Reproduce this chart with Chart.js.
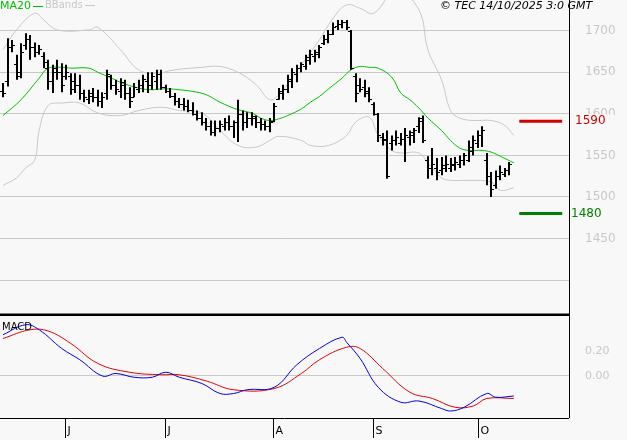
<!DOCTYPE html>
<html>
<head>
<meta charset="utf-8">
<script src="https://cdn.jsdelivr.net/npm/chart.js@4.4.1/dist/chart.umd.min.js"></script>
<style>
  body { margin: 0; background: #f8f8f8; }
  #wrap { position: relative; width: 627px; height: 440px; background: #f8f8f8; overflow: hidden; font-family: 'DejaVu Sans', sans-serif; }
  #main { position: absolute; left: 0; top: 0; }
  #macd { position: absolute; left: 0; top: 315px; }
  .lbl { position: absolute; font-size: 11px; white-space: nowrap; }
</style>
</head>
<body>
<div id="wrap">
  <canvas id="main" width="627" height="316"></canvas>
  <canvas id="macd" width="627" height="125"></canvas>
  <div class="lbl" style="left:0;top:-1px;color:#00c000">MA20<span style="display:inline-block;width:10px;margin-left:2px;border-top:1px solid #00c000;vertical-align:middle"></span></div>
  <div class="lbl" style="left:45px;top:-1px;color:#c8c8c8;font-size:10px">BBands<span style="display:inline-block;width:10px;margin-left:2px;border-top:1px solid #c8c8c8;vertical-align:middle"></span></div>
  <div class="lbl" style="left:440px;top:-1px;color:#000;font-style:italic">© TEC 14/10/2025 3:0 GMT</div>
  <div class="lbl" style="left:2px;top:321px;color:#000;font-size:10px">MACD</div>
</div>
<script>
// OHLC bars, one per trading day
const highs = [1637,1691,1689,1671,1685,1697,1695,1686,1683,1674,1665,1659,1665,1661,1659,1649,1649,1647,1629,1629,
  1631,1629,1626,1653,1647,1641,1643,1641,1632,1637,1641,1647,1650,1650,1653,1653,1635,1631,1625,1619,
  1619,1617,1614,1604,1602,1595,1592,1592,1592,1595,1598,1592,1617,1604,1602,1602,1598,1595,1592,1595,
  1613,1631,1635,1647,1655,1659,1662,1671,1677,1677,1683,1695,1701,1710,1713,1713,1713,1701,1649,1643,
  1641,1632,1614,1601,1577,1580,1574,1580,1577,1583,1580,1583,1596,1598,1549,1559,1547,1548,1550,1547,
  1548,1550,1553,1568,1574,1580,1585,1553,1530,1532,1538,1535,1542];
const lows = [1620,1633,1674,1641,1643,1677,1665,1668,1671,1655,1629,1625,1641,1626,1641,1623,1625,1617,1614,1612,
  1614,1609,1607,1617,1629,1623,1619,1617,1607,1620,1625,1626,1625,1629,1629,1629,1625,1619,1610,1607,
  1604,1602,1598,1592,1586,1580,1574,1573,1578,1580,1580,1571,1566,1580,1583,1586,1583,1580,1580,1578,
  1590,1617,1617,1625,1631,1638,1650,1653,1659,1662,1667,1683,1685,1695,1701,1703,1701,1653,1614,1626,
  1620,1614,1598,1566,1562,1522,1556,1562,1562,1542,1562,1565,1577,1565,1522,1526,1520,1526,1530,1530,
  1532,1535,1538,1542,1550,1559,1560,1514,1500,1510,1520,1524,1526];
const opens = [1628,1640,1680,1660,1650,1683,1690,1680,1675,1670,1655,1640,1655,1650,1645,1645,1640,1635,1625,1618,
  1625,1620,1615,1625,1645,1635,1628,1635,1625,1620,1630,1635,1640,1635,1640,1648,1632,1628,1622,1615,
  1612,1610,1605,1600,1595,1590,1585,1578,1583,1585,1590,1585,1590,1600,1590,1595,1595,1590,1588,1585,
  1592,1618,1625,1630,1640,1648,1655,1658,1665,1670,1672,1685,1690,1696,1706,1708,1710,1700,1645,1635,
  1632,1628,1612,1600,1572,1570,1565,1568,1565,1570,1572,1575,1585,1595,1545,1535,1535,1532,1535,1535,
  1538,1540,1545,1545,1555,1565,1575,1545,1525,1515,1525,1528,1532];
const closes = [1625,1680,1683,1645,1675,1690,1680,1675,1678,1662,1640,1650,1650,1635,1650,1630,1635,1625,1620,1622,
  1620,1615,1620,1648,1635,1630,1638,1625,1615,1632,1635,1642,1635,1645,1648,1632,1628,1622,1615,1612,
  1610,1605,1600,1595,1590,1585,1578,1583,1588,1590,1585,1590,1600,1590,1595,1598,1590,1588,1585,1590,
  1610,1628,1630,1642,1650,1655,1660,1668,1672,1675,1680,1690,1696,1705,1708,1710,1705,1655,1625,1630,
  1625,1618,1600,1575,1568,1525,1568,1572,1570,1575,1578,1580,1592,1568,1535,1540,1530,1538,1540,1540,
  1542,1545,1550,1560,1568,1575,1580,1525,1510,1525,1530,1532,1540];

// indicators read at sampled bars: [bar index, value]
const ma20 = [[0,1598],[4,1617],[8,1643],[10,1655],[13,1656],[15,1655],[19,1655],[21,1650],[24,1643],[26,1638],
  [30,1631],[33,1629],[35,1630],[37,1630],[39,1629],[42,1627],[45,1623],[48,1614],[52,1605],[55,1601],[57,1595],
  [59,1592],[61,1594],[63,1598],[66,1606],[68,1614],[70,1621],[72,1630],[75,1643],[77,1653],[79,1657],[81,1656],
  [83,1655],[86,1644],[88,1625],[90,1617],[92,1607],[94,1595],[97,1580],[99,1568],[101,1559],[103,1556],
  [106,1556],[108,1554],[110,1549],[113,1541]];
const bbUpper = [[0,1677],[3,1701],[7,1721],[9,1713],[12,1701],[19,1701],[21,1704],[26,1677],[30,1653],[34,1649],
  [38,1653],[44,1656],[48,1657],[52,1650],[56,1635],[59,1617],[61,1623],[66,1659],[70,1689],[73,1715],[76,1731],
  [79,1727],[82,1721],[87,1749],[92,1725],[94,1677],[97,1641],[99,1604],[101,1595],[104,1592],[108,1592],
  [111,1586],[113,1574]];
const bbLower = [[0,1514],[3,1523],[5,1535],[7,1544],[8,1580],[10,1610],[13,1613],[17,1613],[21,1601],[26,1598],
  [30,1604],[35,1608],[39,1604],[44,1601],[48,1580],[52,1562],[56,1560],[59,1568],[61,1573],[66,1568],[68,1562],
  [72,1562],[76,1574],[78,1590],[81,1596],[83,1574],[86,1556],[88,1553],[92,1553],[94,1541],[97,1523],[99,1520],
  [103,1520],[108,1518],[110,1508],[113,1511]];
const macdLine = [[0,0.33],[5,0.41],[8,0.37],[13,0.22],[17,0.13],[22,0.0],[25,0.02],[29,-0.01],[33,-0.01],[36,0.03],
  [39,-0.01],[44,-0.06],[48,-0.14],[51,-0.14],[54,-0.11],[60,-0.09],[65,0.09],[70,0.22],[75,0.31],[76,0.27],
  [79,0.14],[83,-0.09],[88,-0.21],[92,-0.20],[97,-0.26],[99,-0.28],[102,-0.25],[107,-0.14],[109,-0.17],[113,-0.16]];
const signalLine = [[0,0.30],[6,0.37],[10,0.36],[15,0.26],[21,0.10],[28,0.03],[35,0.01],[39,0.01],[45,-0.04],
  [51,-0.11],[60,-0.10],[66,0.02],[70,0.13],[76,0.23],[79,0.22],[84,0.06],[90,-0.13],[95,-0.18],[100,-0.25],
  [104,-0.24],[107,-0.18],[113,-0.18]];

// support / resistance
const resistance = 1591;
const support = 1480;
const levelFrom = 114.2;
const levelTo = 123.7;

const monthTicks = [13.7, 35.8, 59.7, 81.9, 105];
const monthLabels = ['J', 'J', 'A', 'S', 'O'];
const priceTicks = [1400, 1450, 1500, 1550, 1600, 1650, 1700];
const priceLabels = ['', '1450', '1500', '1550', '1600', '1650', '1700'];
const macdTicks = [0, 0.2];
const macdLabels = ['0.00', '0.20'];

const xMin = -0.66, xMax = 125.2;
const pts = (arr) => arr.map((p) => ({ x: p[0], y: p[1] }));
const fixWidth = (axis) => { axis.width = 58; };

const drawAxisLabels = (chart, values, labels, size) => {
  const ctx = chart.ctx;
  const ys = chart.scales.y;
  ctx.save();
  ctx.font = size + 'px "DejaVu Sans"';
  ctx.fillStyle = '#c8c8c8';
  ctx.textBaseline = 'middle';
  values.forEach((v, i) => ctx.fillText(labels[i], 585, ys.getPixelForValue(v)));
  ctx.restore();
};

const ohlcPlugin = {
  id: 'ohlc',
  afterDatasetsDraw(chart) {
    const ctx = chart.ctx;
    const xs = chart.scales.x, ys = chart.scales.y;
    ctx.save();
    ctx.strokeStyle = '#000';
    ctx.lineWidth = 2;
    for (let i = 0; i < highs.length; i++) {
      const x = Math.round(xs.getPixelForValue(i));
      ctx.beginPath();
      ctx.moveTo(x, ys.getPixelForValue(highs[i]));
      ctx.lineTo(x, ys.getPixelForValue(lows[i]));
      ctx.stroke();
    }
    ctx.lineWidth = 1;
    for (let i = 0; i < highs.length; i++) {
      const x = Math.round(xs.getPixelForValue(i));
      const yo = Math.round(ys.getPixelForValue(opens[i])) + 0.5;
      const yc = Math.round(ys.getPixelForValue(closes[i])) + 0.5;
      ctx.beginPath();
      ctx.moveTo(x - 3, yo); ctx.lineTo(x, yo);
      ctx.moveTo(x, yc); ctx.lineTo(x + 3, yc);
      ctx.stroke();
    }
    ctx.lineWidth = 3;
    [[resistance, '#d00000'], [support, '#008000']].forEach(([v, col]) => {
      const y = ys.getPixelForValue(v);
      ctx.strokeStyle = col;
      ctx.beginPath();
      ctx.moveTo(xs.getPixelForValue(levelFrom), y);
      ctx.lineTo(xs.getPixelForValue(levelTo), y);
      ctx.stroke();
    });
    ctx.restore();
  },
  afterDraw(chart) {
    const ctx = chart.ctx;
    const ys = chart.scales.y;
    const a = chart.chartArea;
    drawAxisLabels(chart, priceTicks, priceLabels, 12);
    ctx.save();
    ctx.strokeStyle = '#000';
    ctx.lineWidth = 1;
    ctx.beginPath();
    ctx.moveTo(a.right + 0.5, 0); ctx.lineTo(a.right + 0.5, a.bottom);
    ctx.stroke();
    ctx.lineWidth = 3;
    ctx.beginPath();
    ctx.moveTo(0, a.bottom); ctx.lineTo(a.right, a.bottom);
    ctx.stroke();
    ctx.font = '12px "DejaVu Sans"';
    ctx.textBaseline = 'middle';
    ctx.fillStyle = '#f8f8f8';
    ctx.fillRect(574, ys.getPixelForValue(resistance) - 7, 40, 14);
    ctx.fillStyle = '#d00000';
    ctx.fillText('1590', 575, ys.getPixelForValue(resistance));
    ctx.fillStyle = '#008000';
    ctx.fillText('1480', 571, ys.getPixelForValue(support));
    ctx.restore();
  }
};

new Chart(document.getElementById('main'), {
  type: 'line',
  data: {
    datasets: [
      { data: pts(bbUpper), borderColor: '#c8c8c8', borderWidth: 1, pointRadius: 0, tension: 0.4 },
      { data: pts(bbLower), borderColor: '#c8c8c8', borderWidth: 1, pointRadius: 0, tension: 0.4 },
      { data: pts(ma20), borderColor: '#00c000', borderWidth: 1, pointRadius: 0, tension: 0.4 },
    ],
  },
  options: {
    animation: false,
    responsive: false,
    layout: { padding: { top: 0, bottom: 1, left: 0, right: 0 } },
    plugins: { legend: { display: false }, tooltip: { enabled: false } },
    scales: {
      x: { type: 'linear', min: xMin, max: xMax, display: false },
      y: {
        position: 'right', min: 1358, max: 1737,
        afterFit: fixWidth,
        afterBuildTicks: (axis) => { axis.ticks = priceTicks.map((v) => ({ value: v })); },
        grid: { color: '#c8c8c8', drawTicks: false },
        border: { display: false },
        ticks: { display: false },
      },
    },
  },
  plugins: [ohlcPlugin],
});

const macdPlugin = {
  id: 'macdFrame',
  afterDraw(chart) {
    const ctx = chart.ctx;
    const xs = chart.scales.x;
    const a = chart.chartArea;
    drawAxisLabels(chart, macdTicks, macdLabels, 11);
    ctx.save();
    ctx.strokeStyle = '#000';
    ctx.lineWidth = 1;
    ctx.beginPath();
    ctx.moveTo(a.right + 0.5, 0); ctx.lineTo(a.right + 0.5, a.bottom);
    ctx.moveTo(0, a.bottom + 0.5); ctx.lineTo(a.right, a.bottom + 0.5);
    ctx.stroke();
    ctx.font = '11px "DejaVu Sans"';
    ctx.fillStyle = '#000';
    ctx.textBaseline = 'top';
    monthTicks.forEach((m, i) => {
      const x = Math.round(xs.getPixelForValue(m)) + 0.5;
      ctx.beginPath();
      ctx.moveTo(x, a.bottom); ctx.lineTo(x, a.bottom + 20);
      ctx.stroke();
      ctx.fillText(monthLabels[i], x + 2, a.bottom + 8);
    });
    ctx.restore();
  }
};

new Chart(document.getElementById('macd'), {
  type: 'line',
  data: {
    datasets: [
      { data: pts(macdLine), borderColor: '#0000e0', borderWidth: 1, pointRadius: 0, tension: 0.4 },
      { data: pts(signalLine), borderColor: '#e00000', borderWidth: 1, pointRadius: 0, tension: 0.4 },
    ],
  },
  options: {
    animation: false,
    responsive: false,
    layout: { padding: { top: 0, bottom: 22, left: 0, right: 0 } },
    plugins: { legend: { display: false }, tooltip: { enabled: false } },
    scales: {
      x: { type: 'linear', min: xMin, max: xMax, display: false },
      y: {
        position: 'right', min: -0.336, max: 0.488,
        afterFit: fixWidth,
        afterBuildTicks: (axis) => { axis.ticks = macdTicks.map((v) => ({ value: v })); },
        grid: { color: (c) => (c.tick && c.tick.value === 0 ? '#c8c8c8' : 'rgba(0,0,0,0)'), drawTicks: false },
        border: { display: false },
        ticks: { display: false },
      },
    },
  },
  plugins: [macdPlugin],
});
</script>
</body>
</html>
